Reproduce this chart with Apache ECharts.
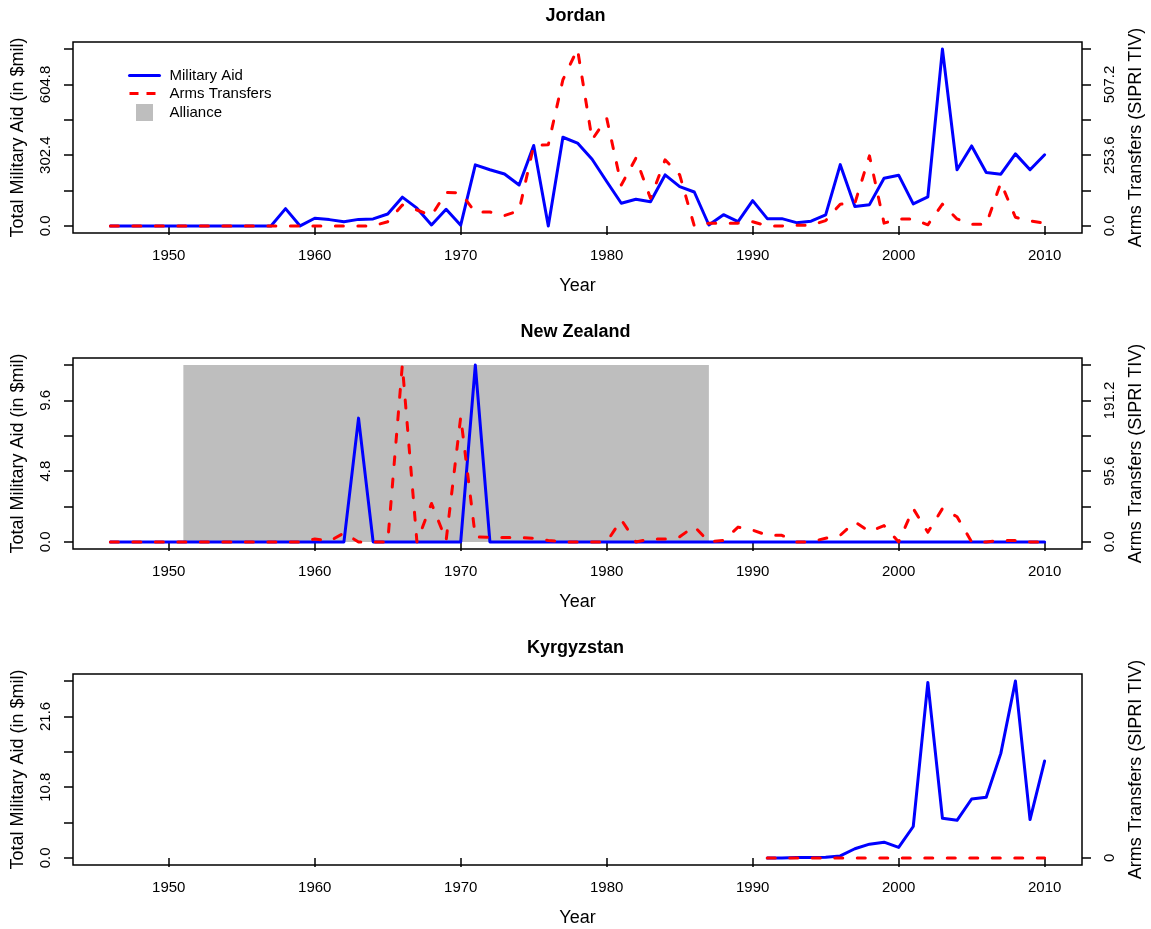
<!DOCTYPE html>
<html>
<head>
<meta charset="utf-8">
<script src="https://cdn.jsdelivr.net/npm/echarts@6/dist/echarts.min.js"></script>
<style>
  html, body { margin: 0; padding: 0; background: #fff; }
  #chart { width: 1151px; height: 929px; }
</style>
</head>
<body>
<div id="chart"></div>
<script>
// years on the x axis
const years = [1946, 1947, 1948, 1949, 1950, 1951, 1952, 1953, 1954, 1955, 1956, 1957,
  1958, 1959, 1960, 1961, 1962, 1963, 1964, 1965, 1966, 1967,
  1968, 1969, 1970, 1971, 1972, 1973, 1974, 1975, 1976, 1977,
  1978, 1979, 1980, 1981, 1982, 1983, 1984, 1985, 1986, 1987,
  1988, 1989, 1990, 1991, 1992, 1993, 1994, 1995, 1996, 1997,
  1998, 1999, 2000, 2001, 2002, 2003, 2004, 2005, 2006, 2007,
  2008, 2009, 2010];
const kgYears = [1991, 1992, 1993, 1994, 1995, 1996, 1997, 1998, 1999, 2000,
  2001, 2002, 2003, 2004, 2005, 2006, 2007, 2008, 2009, 2010];
const xTicks = [1950, 1960, 1970, 1980, 1990, 2000, 2010];

// Jordan
const jordanAid = [0, 0, 0, 0, 0, 0, 0, 0, 0, 0, 0, 0,
  74, 0, 33, 27, 18, 28, 30, 51, 123, 76,
  4, 71, 3, 261, 240, 222, 175, 344, 0, 379,
  354, 285, 190, 97, 114, 103, 218, 168, 145, 4,
  48, 18, 108, 31, 31, 14, 20, 47, 262, 83,
  91, 204, 217, 94, 124, 756, 240, 342, 228, 221,
  308, 240, 304];
const jordanArms = [0, 0, 0, 0, 0, 0, 0, 0, 0, 0, 0, 0,
  0, 0, 0, 0, 0, 0, 0, 15, 75, 57,
  37, 120, 118, 49, 50, 37, 55, 288, 291, 524,
  634, 309, 386, 147, 243, 99, 237, 183, 0, 10,
  10, 10, 15, 0, 0, 2, 3, 19, 78, 81,
  251, 10, 25, 25, 4, 78, 25, 6, 6, 155,
  31, 18, 10];

// New Zealand
const nzAid = [0, 0, 0, 0, 0, 0, 0, 0, 0, 0, 0, 0,
  0, 0, 0, 0, 0, 8.4, 0, 0, 0, 0,
  0, 0, 0, 12, 0, 0, 0, 0, 0, 0,
  0, 0, 0, 0, 0, 0, 0, 0, 0, 0,
  0, 0, 0, 0, 0, 0, 0, 0, 0, 0,
  0, 0, 0, 0, 0, 0, 0, 0, 0, 0,
  0, 0, 0];
const nzArms = [0, 0, 0, 0, 0, 0, 0, 0, 0, 0, 0, 0,
  0, 0, 4, 1, 12, 0, 0, 0, 239, 0,
  52, 2, 169, 7, 6, 6, 6, 5, 2, 0,
  0, 0, 0, 30, 0, 4, 4, 7, 21, 0,
  2, 20, 16, 9, 9, 0, 0, 5, 9, 27,
  14, 22, 0, 45, 13, 45, 34, 0, 0, 2,
  2, 0, 0];
const nzAlliance = [[1951, 1987, 12]];

// Kyrgyzstan
const kgAid = [0, 0, 0.05, 0.05, 0.1, 0.3, 1.4, 2.1, 2.4, 1.6,
  4.8, 26.8, 6.05, 5.74, 9.0, 9.25, 15.96, 27.0, 5.85, 14.8];
const kgArms = [0, 0, 0, 0, 0, 0, 0, 0, 0, 0,
  0, 0, 0, 0, 0, 0, 0, 0, 0, 0];

// y axis ticks and labels
const jordanAidTicks = [0, 151.2, 302.4, 453.6, 604.8, 756];
const jordanAidLabels = [0, 302.4, 604.8];
const jordanArmsTicks = [0, 126.8, 253.6, 380.4, 507.2, 634];
const jordanArmsLabels = [0, 253.6, 507.2];
const nzAidTicks = [0, 2.4, 4.8, 7.2, 9.6, 12];
const nzAidLabels = [0, 4.8, 9.6];
const nzArmsTicks = [0, 47.8, 95.6, 143.4, 191.2, 239];
const nzArmsLabels = [0, 95.6, 191.2];
const kgAidTicks = [0, 5.4, 10.8, 16.2, 21.6, 27];
const kgAidLabels = [0, 10.8, 21.6];
const kgArmsTicks = [0];
const kgArmsLabels = [0];

const FONT = '"Liberation Sans", Arial, Helvetica, sans-serif';
const tops = [42, 358, 674];
const titles = ['Jordan', 'New Zealand', 'Kyrgyzstan'];

function pair(xs, ys) {
  return xs.map((x, i) => [x, ys[i]]);
}

function xAxisFor(i) {
  return {
    type: 'value', gridIndex: i, min: 1943.44, max: 2012.56,
    axisLine: { show: false }, splitLine: { show: false },
    axisTick: { show: true, length: 9, customValues: xTicks, lineStyle: { color: '#000', width: 1.5 } },
    axisLabel: { customValues: xTicks, formatter: v => String(v), margin: 15,
      fontSize: 15, color: '#000', fontFamily: FONT },
    name: 'Year', nameLocation: 'middle', nameGap: 44,
    nameTextStyle: { fontSize: 18, color: '#000', fontFamily: FONT }
  };
}

function yAxisFor(i, side, top, ticks, labels, fmt, name) {
  return {
    type: 'value', gridIndex: i, position: side,
    min: -0.04 * top, max: 1.04 * top,
    axisLine: { show: false }, splitLine: { show: false },
    axisTick: { show: true, length: 9, customValues: ticks, lineStyle: { color: '#000', width: 1.5 } },
    axisLabel: { customValues: labels, formatter: fmt, rotate: 90, margin: 20,
      fontSize: 15, color: '#000', fontFamily: FONT },
    name: name, nameLocation: 'middle', nameGap: side === 'left' ? 46 : 45,
    nameTextStyle: { fontSize: 18, color: '#000', fontFamily: FONT }
  };
}

const oneDec = v => v.toFixed(1);
const aidName = 'Total Military Aid (in $mil)';
const armsName = 'Arms Transfers (SIPRI TIV)';

const blueLine = { color: '#0000FF', width: 3, join: 'round', cap: 'round' };
const redLine = { color: '#FF0000', width: 3, type: [8, 14.5], join: 'round', cap: 'round' };

function lineSeries(name, grid, yIdx, data, style, z) {
  return {
    name: name, type: 'line', xAxisIndex: grid, yAxisIndex: yIdx,
    data: data, symbol: 'none', showSymbol: false, lineStyle: style,
    itemStyle: { color: style.color }, z: z, animation: false, silent: true, clip: false
  };
}

const option = {
  backgroundColor: '#fff',
  animation: false,
  title: titles.map((t, i) => ({
    text: t, left: 'center', top: tops[i] - 35, padding: 0,
    textStyle: { fontSize: 18, fontWeight: 'bold', color: '#000', fontFamily: FONT }
  })),
  legend: {
    left: 128, top: 68, orient: 'vertical', padding: 0,
    itemWidth: 30, itemHeight: 17, itemGap: 3, selectedMode: false,
    textStyle: { fontSize: 15, color: '#000', fontFamily: FONT, padding: [0, 0, 0, 5] },
    data: [
      { name: 'Military Aid', itemStyle: { opacity: 0 }, lineStyle: { width: 3 } },
      { name: 'Arms Transfers', itemStyle: { opacity: 0 }, lineStyle: { width: 3, type: [9, 8], cap: 'butt' } },
      { name: 'Alliance', icon: 'path://M0,0H10V10H0Z', itemStyle: { color: '#BEBEBE' } }
    ]
  },
  grid: tops.map(t => ({
    left: 73, right: 69, top: t, height: 191, show: true, outerBoundsMode: 'none',
    borderColor: '#000', borderWidth: 1.5, backgroundColor: 'transparent'
  })),
  xAxis: [xAxisFor(0), xAxisFor(1), xAxisFor(2)],
  yAxis: [
    yAxisFor(0, 'left', 756, jordanAidTicks, jordanAidLabels, oneDec, aidName),
    yAxisFor(0, 'right', 634, jordanArmsTicks, jordanArmsLabels, oneDec, armsName),
    yAxisFor(1, 'left', 12, nzAidTicks, nzAidLabels, oneDec, aidName),
    yAxisFor(1, 'right', 239, nzArmsTicks, nzArmsLabels, oneDec, armsName),
    yAxisFor(2, 'left', 27, kgAidTicks, kgAidLabels, oneDec, aidName),
    yAxisFor(2, 'right', 1, kgArmsTicks, kgArmsLabels, v => String(v), armsName)
  ],
  series: [
    {
      name: 'Alliance', type: 'custom', xAxisIndex: 1, yAxisIndex: 2,
      data: nzAlliance, z: 1, silent: true, itemStyle: { color: '#BEBEBE' },
      encode: { x: [0, 1], y: 2 },
      renderItem: function (params, api) {
        const p0 = api.coord([api.value(0), 0]);
        const p1 = api.coord([api.value(1), api.value(2)]);
        return {
          type: 'rect',
          shape: { x: p0[0], y: p1[1], width: p1[0] - p0[0], height: p0[1] - p1[1] },
          style: { fill: '#BEBEBE' }
        };
      }
    },
    lineSeries('Military Aid', 0, 0, pair(years, jordanAid), blueLine, 2),
    lineSeries('Arms Transfers', 0, 1, pair(years, jordanArms), redLine, 3),
    lineSeries('Military Aid', 1, 2, pair(years, nzAid), blueLine, 2),
    lineSeries('Arms Transfers', 1, 3, pair(years, nzArms), redLine, 3),
    lineSeries('Military Aid', 2, 4, pair(kgYears, kgAid), blueLine, 2),
    lineSeries('Arms Transfers', 2, 5, pair(kgYears, kgArms), redLine, 3)
  ]
};

const chart = echarts.init(document.getElementById('chart'), null, { renderer: 'canvas' });
chart.setOption(option);
</script>
</body>
</html>
